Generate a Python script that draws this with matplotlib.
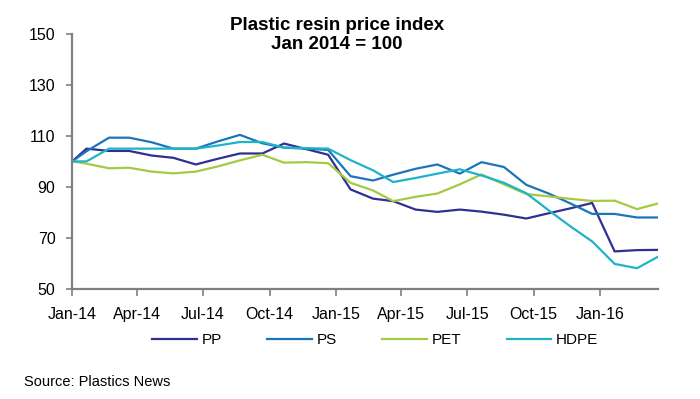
import matplotlib
matplotlib.use("Agg")
import matplotlib.pyplot as plt
import matplotlib.dates as mdates
import pandas as pd

plt.rcParams['font.family'] = ['Liberation Sans', 'DejaVu Sans']

# price dates: baseline Jan 1 2014, then ~21st of each month
dates = [pd.Timestamp('2014-01-01')] + list(pd.date_range('2014-01-01', '2016-03-01', freq='MS') + pd.Timedelta(days=20))

pp = [100, 105, 104.1, 104.1, 102.3, 101.4, 98.8, 101, 103.1, 103.1, 107, 104.8, 102.6,
      89, 85.4, 84.4, 81.1, 80.2, 81.1, 80.3, 79.1, 77.6, 79.6, 81.6, 83.7, 64.7, 65.2, 65.3]
ps = [100, 104, 109.3, 109.3, 107.5, 105, 105, 107.8, 110.4, 107.1, 105.4, 105, 104.5,
      94.2, 92.5, 94.8, 97.1, 98.8, 95.2, 99.7, 97.8, 90.8, 87.5, 83.5, 79.4, 79.4, 78, 78]
pet = [100, 99.1, 97.3, 97.5, 96, 95.3, 96, 98, 100.4, 102.6, 99.5, 99.7, 99.3,
       91.6, 88.6, 84.4, 86.1, 87.4, 91, 94.9, 91, 87.2, 86.3, 85.3, 84.5, 84.6, 81.3, 83.5]
hdpe = [100, 100, 105, 105, 105, 105, 105, 106.2, 107.6, 107.6, 105.4, 105.2, 105,
        100.5, 96.5, 91.9, 93.5, 95.2, 96.9, 94.5, 91.6, 87.5, 81, 74.5, 68.6, 59.8, 58.1, 62.6]

series = [('PP', pp, '#2e3192'), ('PS', ps, '#1b75bb'),
          ('PET', pet, '#a6c942'), ('HDPE', hdpe, '#1fb3c9')]

fig = plt.figure(figsize=(7, 3.99), dpi=100)
ax = fig.add_axes([0.103, 0.276, 0.837, 0.639])

for name, vals, col in series:
    ax.plot(dates, vals, color=col, lw=1.6, label=name)

ax.set_ylim(50, 150)
ax.set_yticks(range(50, 151, 20))
ax.set_xlim(dates[0], dates[-1])
ticks = pd.date_range('2014-01-01', '2016-01-01', freq='QS')
ax.set_xticks(ticks)
ax.xaxis.set_major_formatter(mdates.DateFormatter('%b-%y'))

for s in ['top', 'right']:
    ax.spines[s].set_visible(False)
for s in ['left', 'bottom']:
    ax.spines[s].set_color('#808080')
    ax.spines[s].set_linewidth(1.6)
ax.tick_params(axis='both', colors='#808080', labelcolor='black', labelsize=11.5, width=1.2)
ax.tick_params(axis='y', length=4, pad=8)
ax.tick_params(axis='x', length=5, pad=8)

fig.text(0.481, 0.912, 'Plastic resin price index\nJan 2014 = 100', ha='center', va='center',
         fontsize=13.5, fontweight='bold', linespacing=1.2)

fig.legend(loc='center', bbox_to_anchor=(0.536, 0.148), ncol=4, frameon=False,
           fontsize=11, handlelength=2.9, columnspacing=3.0, handletextpad=0.3)

fig.text(0.034, 0.042, 'Source: Plastics News', fontsize=10.5, va='center')

fig.savefig('out.png', dpi=100)
